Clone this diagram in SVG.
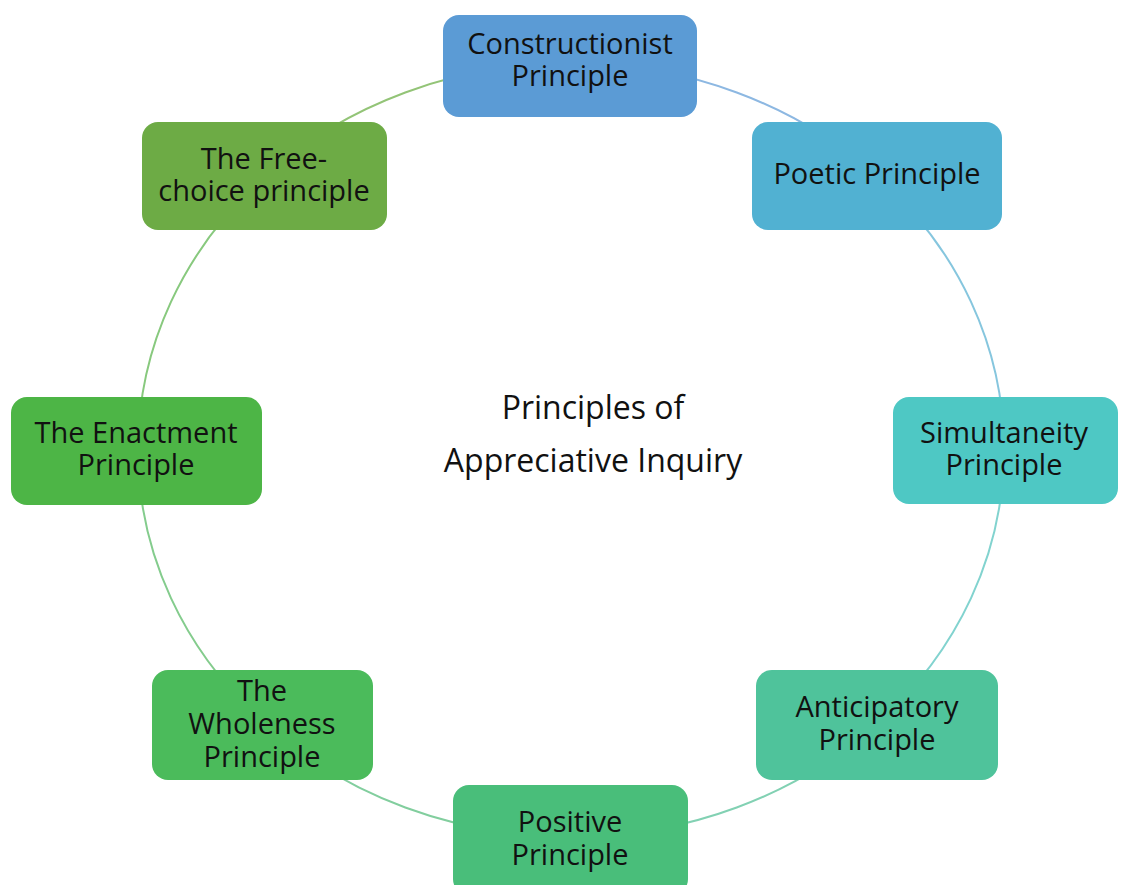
<svg xmlns="http://www.w3.org/2000/svg" width="1122" height="885" viewBox="0 0 1122 885">
<style>
.lbl{font-family:"Open Sans","Noto Sans","Liberation Sans",sans-serif;font-size:29px;fill:#111;text-anchor:middle}
.ctr{font-family:"Open Sans","Noto Sans","Liberation Sans",sans-serif;font-size:32px;fill:#111;text-anchor:middle}
.arc{fill:none;stroke-width:2}
</style>
<rect width="1122" height="885" fill="#fff"/>
<g id="connectors">
<path class="arc" stroke="#8DB8E2" d="M571 63 A433 387 0 0 1 877.2 176.4"/>
<path class="arc" stroke="#86C6DE" d="M877.2 176.4 A433 387 0 0 1 1004 450"/>
<path class="arc" stroke="#82D3CF" d="M1004 450 A433 387 0 0 1 877.2 723.6"/>
<path class="arc" stroke="#82D1B3" d="M877.2 723.6 A433 387 0 0 1 571 837"/>
<path class="arc" stroke="#82CE9E" d="M571 837 A433 387 0 0 1 264.8 723.6"/>
<path class="arc" stroke="#84CC8D" d="M264.8 723.6 A433 387 0 0 1 138 450"/>
<path class="arc" stroke="#88C97E" d="M138 450 A433 387 0 0 1 264.8 176.4"/>
<path class="arc" stroke="#93C477" d="M264.8 176.4 A433 387 0 0 1 571 63"/>
</g>
<g id="n1"><rect x="443" y="15" width="254" height="102" rx="16" fill="#5B9BD5"/>
<text class="lbl" x="570" y="54">Constructionist</text><text class="lbl" x="570" y="86">Principle</text></g>
<g id="n2"><rect x="752" y="122" width="250" height="108" rx="16" fill="#51B1D2"/>
<text class="lbl" x="877" y="184">Poetic Principle</text></g>
<g id="n3"><rect x="893" y="397" width="225" height="107" rx="16" fill="#4EC8C4"/>
<text class="lbl" x="1004" y="443">Simultaneity</text><text class="lbl" x="1004" y="475">Principle</text></g>
<g id="n4"><rect x="756" y="670" width="242" height="110" rx="16" fill="#4FC39B"/>
<text class="lbl" x="877" y="717">Anticipatory</text><text class="lbl" x="877" y="750">Principle</text></g>
<g id="n5"><rect x="453" y="785" width="235" height="110" rx="16" fill="#49BE7A"/>
<text class="lbl" x="570" y="832">Positive</text><text class="lbl" x="570" y="865">Principle</text></g>
<g id="n6"><rect x="152" y="670" width="221" height="110" rx="16" fill="#4BBB5B"/>
<text class="lbl" x="262" y="701">The</text><text class="lbl" x="262" y="734">Wholeness</text><text class="lbl" x="262" y="767">Principle</text></g>
<g id="n7"><rect x="11" y="397" width="251" height="108" rx="16" fill="#4DB546"/>
<text class="lbl" x="136" y="443">The Enactment</text><text class="lbl" x="136" y="475">Principle</text></g>
<g id="n8"><rect x="142" y="122" width="245" height="108" rx="16" fill="#6DAB45"/>
<text class="lbl" x="264" y="169">The Free-</text><text class="lbl" x="264" y="201">choice principle</text></g>
<g id="center">
<text class="ctr" x="593" y="419">Principles of</text>
<text class="ctr" x="593" y="472">Appreciative Inquiry</text>
</g>
</svg>
